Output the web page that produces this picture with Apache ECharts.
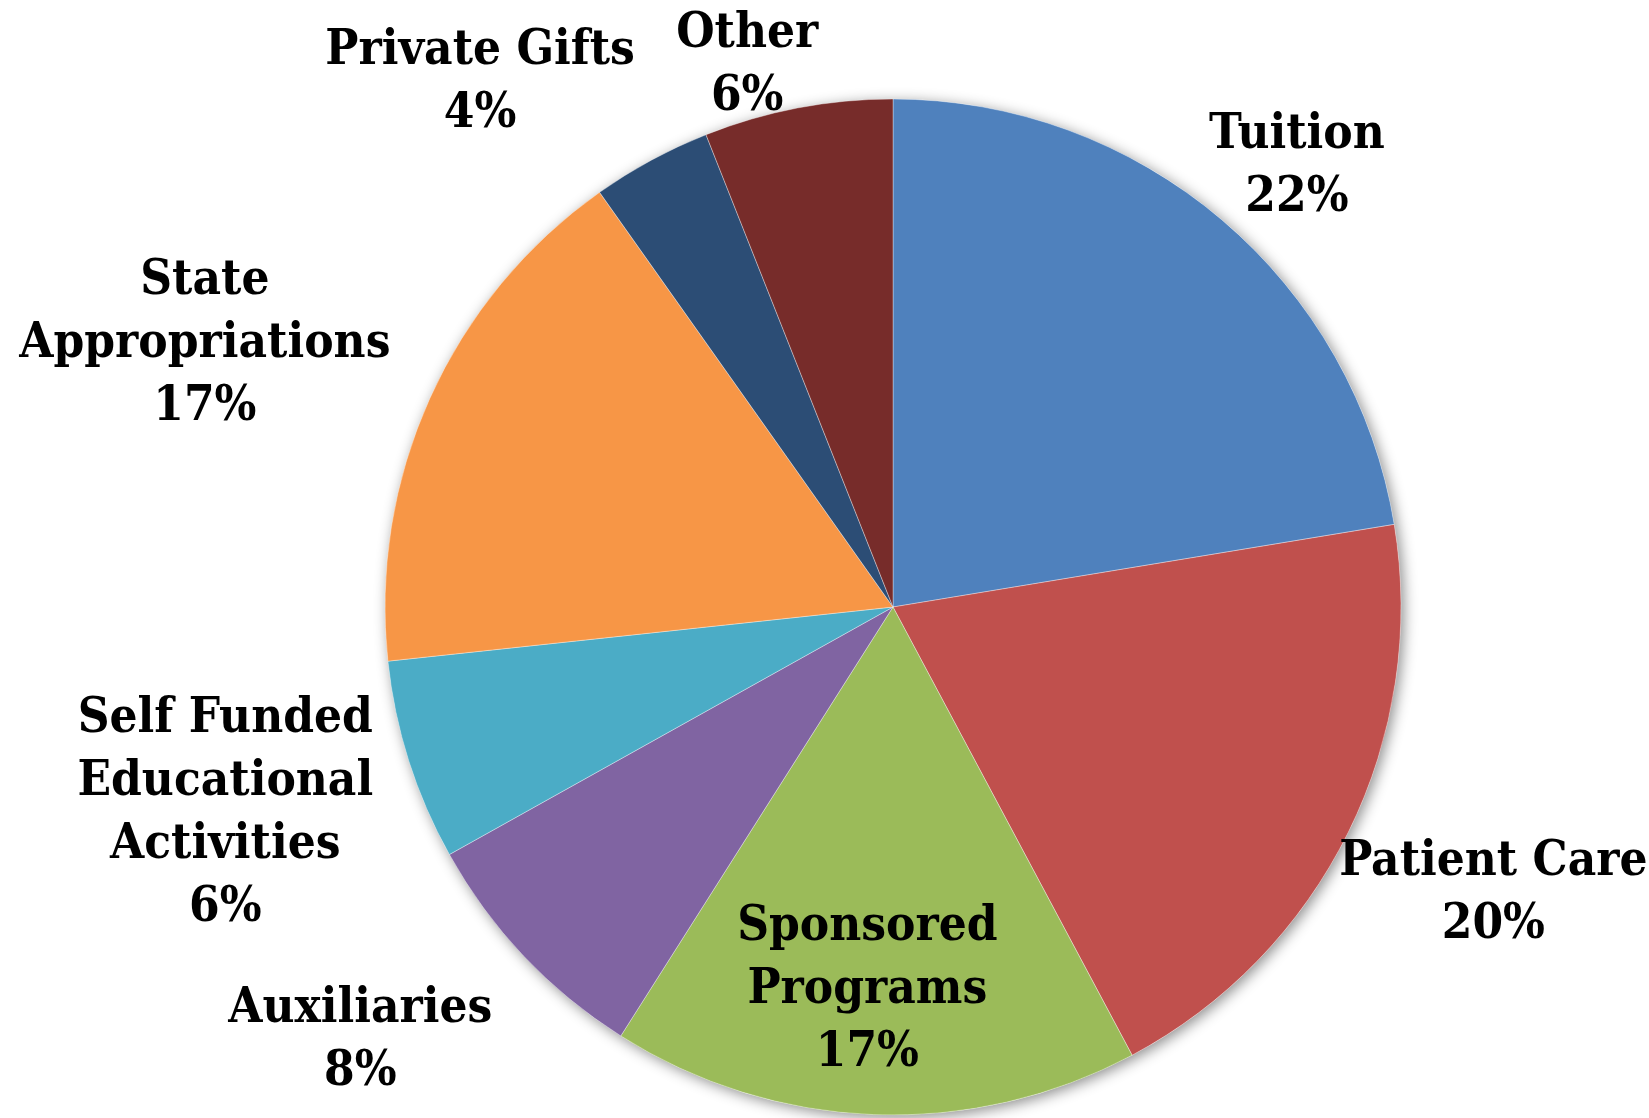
<!DOCTYPE html>
<html>
<head>
<meta charset="utf-8">
<script src="https://cdn.jsdelivr.net/npm/echarts@6/dist/echarts.min.js"></script>
<style>
html,body{margin:0;padding:0;background:#fff;}
#chart{width:1649px;height:1118px;}
</style>
</head>
<body>
<div id="chart"></div>
<script>
// ---- data ----
const categories = ['Tuition', 'Patient Care', 'Sponsored\nPrograms', 'Auxiliaries',
  'Self Funded\nEducational\nActivities', 'State\nAppropriations', 'Private Gifts', 'Other'];
const shares = [22.4, 19.8, 16.8, 7.9, 6.4, 16.9, 3.8, 6.0];
const colors = ['#4F81BD', '#C0504D', '#9BBB59', '#8064A2', '#4BACC6', '#F79646', '#2C4D75', '#772C2A'];

// ---- layout (label placement relative to slice middle) ----
const labelAngleShift = [2.0, -1.0, 1.7, 4.4, 0.7, -3.2, -9.6, -4.2];   // degrees
const labelRadiusFactor = [1.181, 1.307, 0.750, 1.349, 1.374, 1.452, 1.319, 1.109];

const CX = 893, CY = 607, R = 508;
const total = shares.reduce((a, b) => a + b, 0);
const midAngles = [];
let acc = 0;
shares.forEach(v => { midAngles.push((acc + v / 2) / total * 360); acc += v; });

const chart = echarts.init(document.getElementById('chart'), null, {renderer: 'canvas'});
const fontFamily = "'DejaVu Serif Condensed', 'DejaVu Serif', serif";

chart.setOption({
  backgroundColor: '#ffffff',
  animation: false,
  series: [
    {
      type: 'pie',
      silent: true,
      center: [CX, CY],
      radius: [0, R],
      z: 1,
      label: {show: false},
      labelLine: {show: false},
      itemStyle: {
        color: '#ffffff',
        shadowBlur: 14,
        shadowColor: 'rgba(0,0,0,0.45)',
        shadowOffsetX: 3,
        shadowOffsetY: 3
      },
      data: [{value: 1, name: ''}]
    },
    {
      type: 'pie',
      center: [CX, CY],
      radius: [0, R],
      z: 2,
      startAngle: 90,
      clockwise: true,
      percentPrecision: 0,
      avoidLabelOverlap: false,
      itemStyle: {borderColor: 'rgba(255,255,255,0.35)', borderWidth: 1},
      label: {
        show: true,
        position: 'outside',
        formatter: '{b}\n{d}%',
        color: '#000000',
        fontFamily: fontFamily,
        fontWeight: 'bold',
        fontSize: 49,
        lineHeight: 63,
        align: 'center'
      },
      labelLine: {show: false},
      labelLayout: function (params) {
        const i = params.dataIndex;
        const ang = (midAngles[i] + labelAngleShift[i]) * Math.PI / 180;
        const d = R * labelRadiusFactor[i];
        return {
          x: CX + d * Math.sin(ang),
          y: CY - d * Math.cos(ang) + 3,
          align: 'center',
          verticalAlign: 'middle'
        };
      },
      emphasis: {disabled: true},
      data: categories.map((c, i) => ({
        name: c,
        value: shares[i],
        itemStyle: {color: colors[i]}
      }))
    }
  ]
});
</script>
</body>
</html>
